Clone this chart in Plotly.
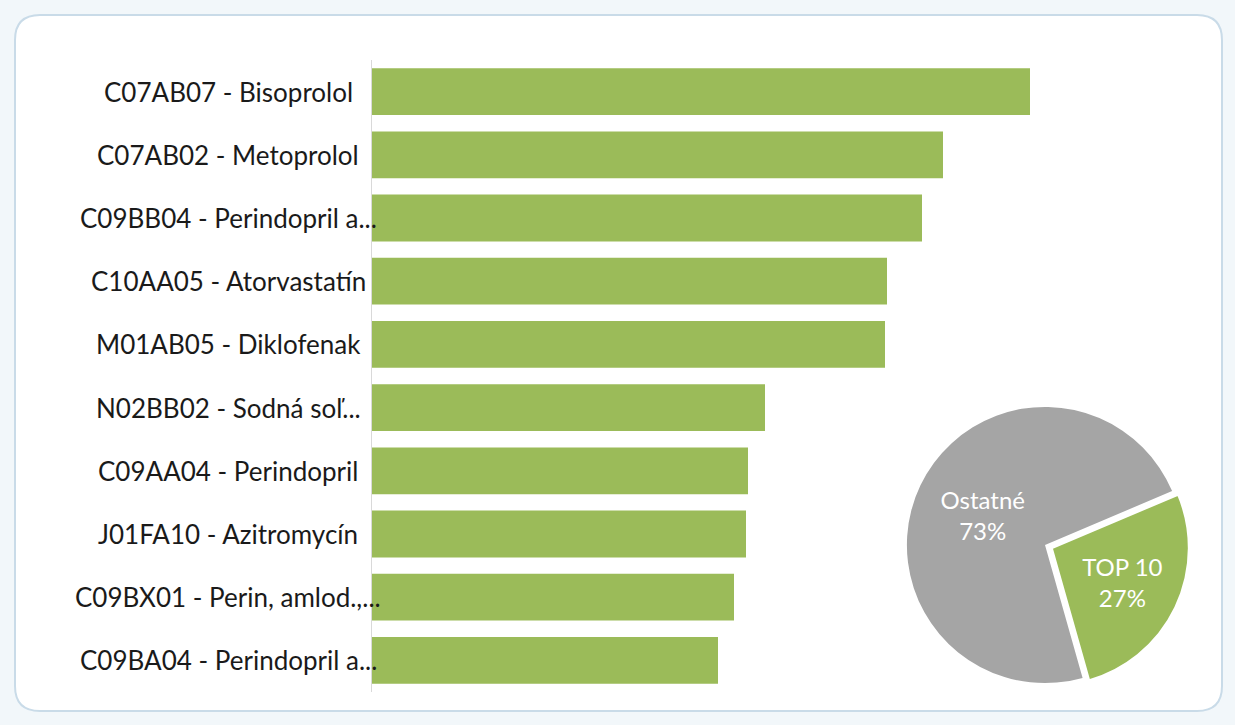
import plotly.graph_objects as go

W, H = 1235, 725

drugs = [
    "C07AB07 - Bisoprolol",
    "C07AB02 - Metoprolol",
    "C09BB04 - Perindopril a...",
    "C10AA05 - Atorvastatín",
    "M01AB05 - Diklofenak",
    "N02BB02 - Sodná soľ...",
    "C09AA04 - Perindopril",
    "J01FA10 - Azitromycín",
    "C09BX01 - Perin, amlod.,...",
    "C09BA04 - Perindopril a...",
]
values = [658, 571, 550, 515, 513, 393, 376, 374, 362, 346]

pie_labels = ["TOP 10", "Ostatné"]
pie_values = [27, 73]

GREEN = "#9bbb59"
GRAY = "#a5a5a5"
FONT = "Lato"

fig = go.Figure()
fig.add_trace(go.Bar(
    x=values, y=drugs, orientation="h",
    marker=dict(color=GREEN, line=dict(width=0)),
    hoverinfo="x+y",
))
fig.add_trace(go.Pie(
    labels=pie_labels, values=pie_values,
    sort=False, direction="clockwise", rotation=67,
    marker=dict(colors=[GREEN, GRAY], line=dict(color=["white", GRAY], width=[3, 0])),
    pull=[0.05, 0],
    textinfo="label+percent", textposition="inside",
    insidetextorientation="horizontal",
    textfont=dict(family=FONT, size=24, color="white"),
    domain=dict(x=[900 / W, 1190 / W], y=[1 - 690 / H, 1 - 400 / H]),
    showlegend=False,
))

x0, x1 = 372, 1200
fig.update_layout(
    width=W, height=H,
    margin=dict(l=0, r=0, t=0, b=0),
    paper_bgcolor="#f2f7fa",
    plot_bgcolor="rgba(0,0,0,0)",
    showlegend=False,
    bargap=0.26,
    font=dict(family=FONT, size=26, color="#1a1a1a"),
    xaxis=dict(
        domain=[x0 / W, x1 / W], range=[0, x1 - x0],
        showgrid=False, zeroline=False, showticklabels=False, showline=False,
        fixedrange=True,
    ),
    yaxis=dict(
        domain=[1 - 692 / H, 1 - 60 / H],
        autorange="reversed",
        showgrid=False, zeroline=False, showticklabels=False,
        showline=True, linecolor="#d9d9d9", linewidth=1,
        ticks="", fixedrange=True,
    ),
    shapes=[dict(
        type="path", xref="paper", yref="paper", layer="below",
        path=(
            "M {a},{t} L {b},{t} Q {r},{t} {r},{tt} L {r},{bb} Q {r},{bo} {b},{bo} "
            "L {a},{bo} Q {l},{bo} {l},{bb} L {l},{tt} Q {l},{t} {a},{t} Z"
        ).format(
            l=15 / W, r=1222 / W, a=40 / W, b=1197 / W,
            t=1 - 15 / H, tt=1 - 40 / H, bo=1 - 711 / H, bb=1 - 686 / H,
        ),
        fillcolor="white", line=dict(color="#c9dbe8", width=2),
    )],
)

for name in drugs:
    fig.add_annotation(
        x=228 / W, xref="paper", y=name, yref="y",
        text=name, showarrow=False, xanchor="center", yanchor="middle",
        font=dict(family=FONT, size=26, color="#1a1a1a"),
    )

fig.write_html(
    "out.html",
    config={"displayModeBar": False},
    post_script="document.body.style.margin='0';document.body.style.overflow='hidden';",
)
